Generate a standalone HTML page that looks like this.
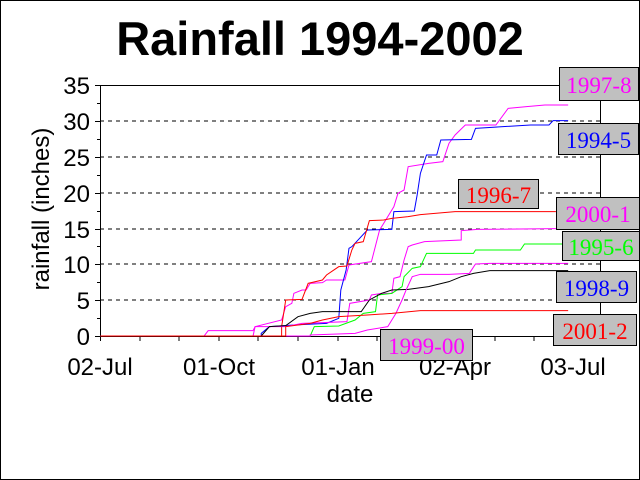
<!DOCTYPE html>
<html><head><style>
body{margin:0;background:#fff}
.wrap{position:relative;width:640px;height:480px;overflow:hidden}
.lb{position:absolute;background:#c0c0c0;border:1px solid #000;font-family:"Liberation Serif",serif;font-size:23px;text-align:center;box-sizing:border-box;line-height:1}
</style></head><body><div class="wrap">
<svg width="640" height="480" style="position:absolute;left:0;top:0">
<rect x="0.5" y="0.5" width="639" height="479" fill="none" stroke="#000"/>
<text x="320" y="55" text-anchor="middle" font-family="Liberation Sans" font-weight="bold" font-size="47">Rainfall 1994-2002</text>
<g stroke="#000" stroke-dasharray="4,4" stroke-width="1">
<line x1="100" y1="121" x2="600" y2="121"/><line x1="100" y1="157" x2="600" y2="157"/>
<line x1="100" y1="193" x2="600" y2="193"/><line x1="100" y1="229" x2="600" y2="229"/>
<line x1="100" y1="264" x2="600" y2="264"/><line x1="100" y1="300" x2="600" y2="300"/>
</g>
<g stroke="#000" fill="none">
<line x1="95" y1="85.5" x2="600" y2="85.5"/>
<line x1="600.5" y1="85" x2="600.5" y2="336"/>
<line x1="100.5" y1="85" x2="100.5" y2="341"/>
<line x1="95" y1="336.5" x2="600" y2="336.5"/>
<path d="M95 121.5h5M95 157.5h5M95 193.5h5M95 229.5h5M95 264.5h5M95 300.5h5M97 103.5h3M97 139.5h3M97 175.5h3M97 211.5h3M97 246.5h3M97 282.5h3M97 318.5h3"/>
<path d="M140 336v5M179 336v5M219 336v5M258 336v5M298 336v5M338 336v5M377 336v5M416 336v5M455 336v5M495 336v5M534 336v5M573 336v5"/>
</g>
<g font-family="Liberation Sans" font-size="24" text-anchor="end">
<text x="90" y="94">35</text><text x="90" y="130">30</text><text x="90" y="166">25</text><text x="90" y="202">20</text><text x="90" y="238">15</text><text x="90" y="273">10</text><text x="90" y="309">5</text><text x="90" y="345">0</text>
</g>
<g font-family="Liberation Sans" font-size="24" text-anchor="middle">
<text x="100" y="375">02-Jul</text><text x="219" y="375">01-Oct</text><text x="338" y="375">01-Jan</text><text x="455" y="375">02-Apr</text><text x="573" y="375">03-Jul</text>
<text x="350" y="402">date</text>
<text transform="translate(49,209) rotate(-90)">rainfall (inches)</text>
</g>
<g transform="translate(0,60) scale(0.40816,0.33333)" fill="none" stroke-width="1">
<polyline vector-effect="non-scaling-stroke" stroke="#ff00ff" points="246,828 500,828 510,812 620,812 625,800 690,780 700,740 715,730 720,700 740,690 750,690 755,680 760,670 790,668 800,660 845,660 855,615 910,605 930,510 940,490 965,440 975,400 990,390 1000,320 1050,310 1085,305 1100,250 1115,225 1140,195 1215,195 1245,145 1290,140 1335,135 1392,135"/>
<polyline vector-effect="non-scaling-stroke" stroke="#0000ff" points="246,828 640,828 640,820 660,800 720,795 800,790 830,775 835,690 848,630 855,565 862,560 900,510 960,508 965,455 1015,453 1022,405 1030,340 1045,285 1070,285 1080,240 1155,238 1165,205 1300,195 1345,195 1355,182 1392,182"/>
<polyline vector-effect="non-scaling-stroke" stroke="#ff0000" points="246,828 690,828 690,800 700,720 740,718 755,670 790,660 800,645 830,620 850,618 862,570 870,550 890,545 905,482 940,480 960,475 1000,470 1030,464 1115,455 1200,455 1362,455"/>
<polyline vector-effect="non-scaling-stroke" stroke="#ff00ff" points="246,828 620,828 625,800 700,800 740,790 790,788 850,785 857,730 905,720 910,705 935,700 960,700 965,655 980,650 990,600 1000,560 1010,555 1040,545 1130,540 1130,512 1170,508 1362,506"/>
<polyline vector-effect="non-scaling-stroke" stroke="#00ff00" points="246,828 760,828 770,800 830,798 870,780 890,760 920,755 925,705 960,700 985,680 990,650 1010,625 1030,620 1045,580 1060,580 1160,580 1165,570 1275,570 1285,552 1392,552"/>
<polyline vector-effect="non-scaling-stroke" stroke="#000" points="246,828 640,828 660,800 700,797 730,770 760,760 790,755 885,755 905,720 935,700 960,690 1000,688 1050,680 1100,665 1130,650 1160,640 1200,632 1392,632"/>
<polyline vector-effect="non-scaling-stroke" stroke="#ff00ff" points="246,828 760,828 760,825 870,820 900,810 950,800 960,780 970,760 985,720 995,690 1010,650 1030,643 1100,643 1150,640 1165,612 1200,610 1392,610"/>
<polyline vector-effect="non-scaling-stroke" stroke="#ff0000" points="246,828 700,828 700,800 760,790 790,780 830,770 900,765 960,760 1030,752 1392,752"/>
</g>
</svg>
<div class="lb" style="left:559px;top:67px;width:80px;height:34px;padding-top:6px;color:#ff00ff">1997-8</div>
<div class="lb" style="left:558px;top:123px;width:81px;height:32px;padding-top:5px;color:#0000ff">1994-5</div>
<div class="lb" style="left:458px;top:179px;width:81px;height:30px;padding-top:4px;color:#ff0000">1996-7</div>
<div class="lb" style="left:556px;top:197px;width:84px;height:33px;padding-top:5px;color:#ff00ff">2000-1</div>
<div class="lb" style="left:562px;top:231px;width:78px;height:30px;padding-top:4px;color:#00ff00">1995-6</div>
<div class="lb" style="left:556px;top:271px;width:81px;height:32px;padding-top:5px;color:#0000ff">1998-9</div>
<div class="lb" style="left:553px;top:314px;width:84px;height:32px;padding-top:5px;color:#ff0000">2001-2</div>
<div class="lb" style="left:380px;top:329px;width:93px;height:32px;padding-top:5px;color:#ff00ff">1999-00</div>
</div></body></html>
